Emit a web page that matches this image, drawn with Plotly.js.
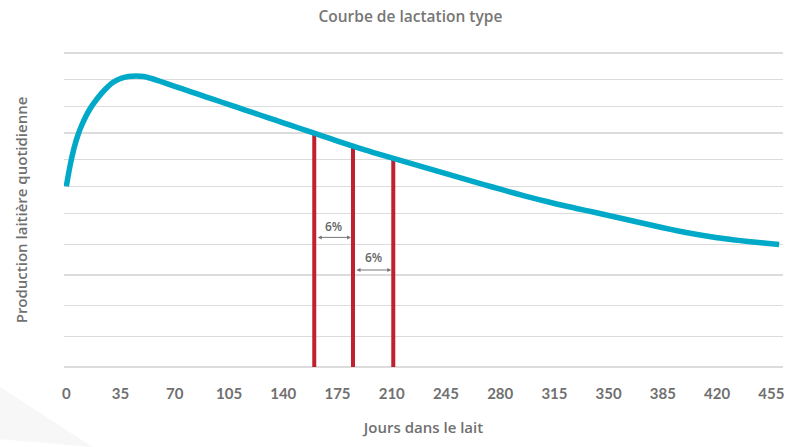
<!DOCTYPE html>
<html>
<head>
<meta charset="utf-8">
<script src="https://cdn.plot.ly/plotly-3.0.1.min.js"></script>
<style>html,body{margin:0;padding:0;background:#fff;}#chart{width:800px;height:447px;}</style>
</head>
<body>
<div id="chart"></div>
<script>
// Lactation curve (days in milk, relative daily production)
const days = [0, 2.5, 5, 7.5, 10, 15, 20, 25, 30, 35, 40, 45, 50, 55, 60, 70, 80, 90, 100, 110, 120, 130, 140, 150, 160, 170, 180, 190, 200, 210, 220, 230, 240, 250, 260, 270, 280, 290, 300, 310, 320, 330, 340, 350, 360, 370, 380, 390, 400, 410, 420, 430, 440, 450, 460];
const milk = [18.06, 20.2, 21.9, 23.2, 24.2, 25.75, 26.85, 27.75, 28.45, 28.85, 29.05, 29.1, 29.05, 28.85, 28.6, 28.07, 27.54, 27.02, 26.5, 25.98, 25.46, 24.94, 24.42, 23.9, 23.38, 22.86, 22.33, 21.83, 21.37, 20.91, 20.46, 20.01, 19.56, 19.11, 18.66, 18.22, 17.78, 17.35, 16.94, 16.55, 16.17, 15.83, 15.5, 15.15, 14.8, 14.45, 14.1, 13.76, 13.45, 13.17, 12.93, 12.73, 12.55, 12.4, 12.25];

// Vertical reference lines (day, value at curve)
const redDays = [160, 185, 211];
const redTop = [23.4, 22.0, 20.8];

// Percentage drop labels
const dropLabels = ['6%', '6%'];

const xTicks = [0, 35, 70, 105, 140, 175, 210, 245, 280, 315, 350, 385, 420, 455];
const gridVals = [0, 3.06, 6.13, 9.2, 12.26, 15.33, 18.06, 20.73, 23.4, 26.06, 28.73, 31.4];

const traces = [];
redDays.forEach((d, i) => {
  traces.push({
    x: [d, d], y: [0, redTop[i]], type: 'scatter', mode: 'lines',
    line: {color: '#c1202f', width: 4}, hoverinfo: 'skip', showlegend: false
  });
});
traces.push({
  x: days, y: milk, type: 'scatter', mode: 'lines',
  line: {color: '#00a9c7', width: 5.5, shape: 'spline', smoothing: 0.8},
  showlegend: false
});

const grey = '#707070';
const tickFam = 'Lato, "Open Sans", sans-serif';
const textFam = '"Open Sans", Lato, sans-serif';

const annotations = [
  {x: redDays[1], y: 12.96, ax: redDays[0], ay: 12.96, xref: 'x', yref: 'y', axref: 'x', ayref: 'y',
   showarrow: true, arrowside: 'end+start', arrowhead: 2, arrowsize: 0.8, arrowwidth: 1, arrowcolor: '#777',
   text: '', standoff: 2, startstandoff: 2},
  {x: redDays[2], y: 9.7, ax: redDays[1], ay: 9.7, xref: 'x', yref: 'y', axref: 'x', ayref: 'y',
   showarrow: true, arrowside: 'end+start', arrowhead: 2, arrowsize: 0.8, arrowwidth: 1, arrowcolor: '#777',
   text: '', standoff: 2, startstandoff: 2},
  {x: (redDays[0] + redDays[1]) / 2, y: 14.06, xref: 'x', yref: 'y', showarrow: false,
   text: dropLabels[0], font: {family: textFam, size: 12, color: '#666666', weight: 600}},
  {x: (redDays[1] + redDays[2]) / 2, y: 10.96, xref: 'x', yref: 'y', showarrow: false,
   text: dropLabels[1], font: {family: textFam, size: 12, color: '#666666', weight: 600}}
];

const layout = {
  width: 800, height: 447,
  margin: {l: 64, r: 17, t: 51, b: 78},
  paper_bgcolor: '#ffffff', plot_bgcolor: '#ffffff',
  title: {text: 'Courbe de lactation type', x: 0.513, xanchor: 'center', y: 0.962, yanchor: 'middle',
          font: {family: textFam, size: 15.5, color: '#767676', weight: 600}},
  xaxis: {
    range: [-1.5, 462.5], tickvals: xTicks, ticktext: xTicks.map(String),
    showgrid: false, zeroline: false, showline: false,
    ticks: 'outside', ticklen: 11, tickcolor: 'rgba(0,0,0,0)',
    tickfont: {family: tickFam, size: 15, color: grey, weight: 700},
    title: {text: 'Jours dans le lait', standoff: 21, font: {family: textFam, size: 15, color: grey, weight: 600}}
  },
  yaxis: {
    range: [-0.2, 31.6], tickvals: gridVals, showticklabels: false,
    showgrid: true, gridcolor: '#dcdcdc', gridwidth: 1.5, zeroline: false, showline: false,
    title: {text: 'Production laitière quotidienne', standoff: 31, font: {family: textFam, size: 15, color: grey, weight: 600}}
  },
  annotations: annotations,
  shapes: [
    {type: 'path', xref: 'paper', yref: 'paper', layer: 'below',
     path: 'M -0.09 -0.055 L -0.09 -0.221 L 0.04 -0.245 L 0.04 -0.245 Z',
     fillcolor: '#f7f7f7', line: {width: 0}}
  ]
};

Plotly.newPlot('chart', traces, layout, {displayModeBar: false, staticPlot: true});
</script>
</body>
</html>
